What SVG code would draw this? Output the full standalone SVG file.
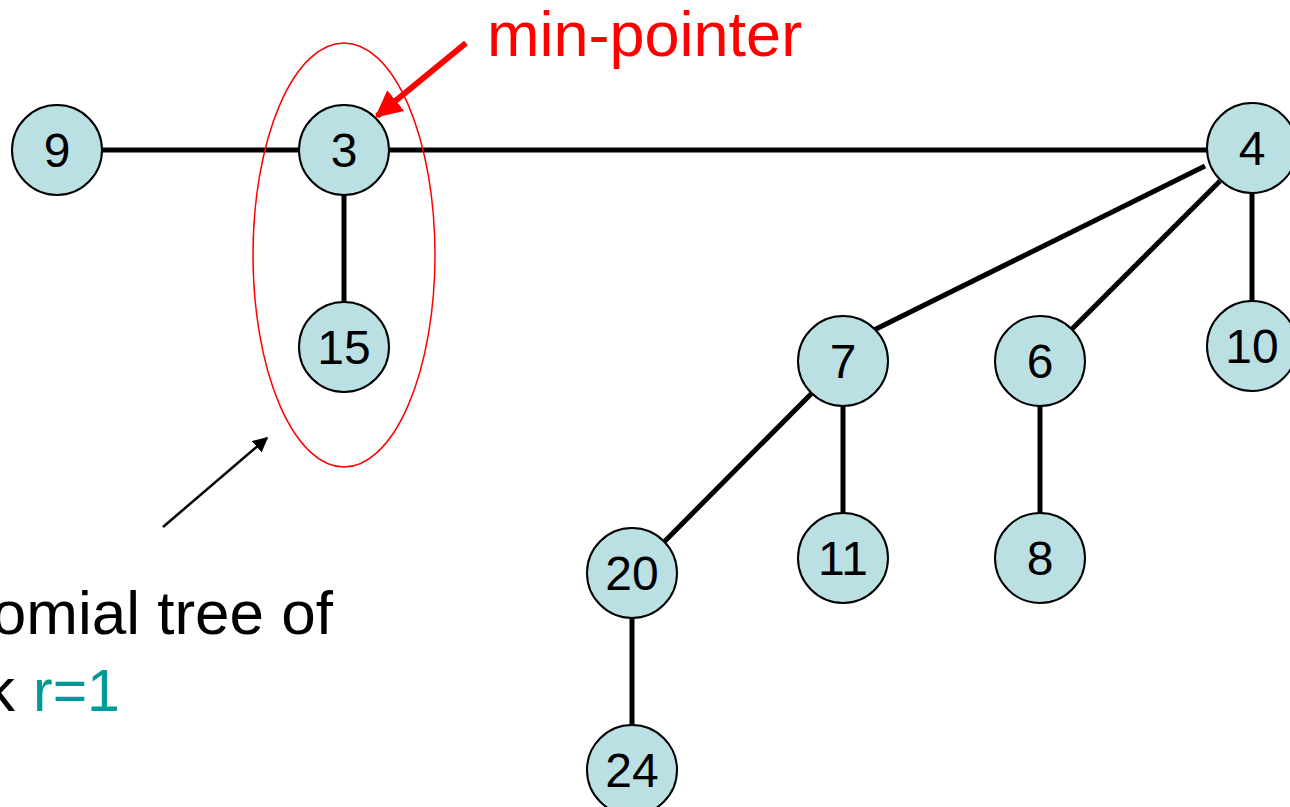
<svg xmlns="http://www.w3.org/2000/svg" width="1290" height="807" viewBox="0 0 1290 807">
  <style>
    .node circle { fill: #BBE0E3; stroke: #000; stroke-width: 2; }
    .node text { font-family: "Liberation Sans", Arial, sans-serif; font-size: 48px; fill: #000; text-anchor: middle; }
    .edge { stroke: #000; stroke-width: 5; fill: none; }
    .label { font-family: "Liberation Sans", Arial, sans-serif; font-size: 62px; }
  </style>
  <defs>
    <marker id="redHead" viewBox="0 0 10 10" refX="9" refY="5" markerWidth="4.5" markerHeight="4.5" orient="auto" markerUnits="strokeWidth">
      <path d="M0,0 L10,5 L0,10 z" fill="#FF0000"/>
    </marker>
    <marker id="blackHead" viewBox="0 0 10 10" refX="9" refY="5" markerWidth="6" markerHeight="6" orient="auto" markerUnits="strokeWidth">
      <path d="M0,0 L10,5 L0,10 z" fill="#000"/>
    </marker>
  </defs>

  <!-- tree edges -->
  <g id="connectors">
    <line class="edge" x1="101" y1="150" x2="300" y2="150"/>
    <line class="edge" x1="389" y1="150" x2="1207" y2="150"/>
    <line class="edge" x1="344" y1="195" x2="344" y2="302"/>
    <line class="edge" x1="1205" y1="166" x2="874" y2="330"/>
    <line class="edge" x1="1220" y1="181" x2="1071" y2="330"/>
    <line class="edge" x1="1252" y1="193" x2="1252" y2="301"/>
    <line class="edge" x1="812" y1="393" x2="664" y2="542"/>
    <line class="edge" x1="843" y1="406" x2="843" y2="513"/>
    <line class="edge" x1="1040" y1="406" x2="1040" y2="513"/>
    <line class="edge" x1="632" y1="618" x2="632" y2="725"/>
  </g>

  <g id="n9" class="node"><circle cx="57" cy="150" r="45"/><text x="57" y="167">9</text></g>
  <g id="n3" class="node"><circle cx="344" cy="150" r="45"/><text x="344" y="167">3</text></g>
  <g id="n4" class="node"><circle cx="1252" cy="148" r="45"/><text x="1252" y="165">4</text></g>
  <g id="n15" class="node"><circle cx="344" cy="347" r="45"/><text x="344" y="364">15</text></g>
  <g id="n10" class="node"><circle cx="1252" cy="346" r="45"/><text x="1252" y="363">10</text></g>
  <g id="n7" class="node"><circle cx="843" cy="361" r="45"/><text x="843" y="378">7</text></g>
  <g id="n6" class="node"><circle cx="1040" cy="361" r="45"/><text x="1040" y="378">6</text></g>
  <g id="n11" class="node"><circle cx="843" cy="558" r="45"/><text x="843" y="575">11</text></g>
  <g id="n8" class="node"><circle cx="1040" cy="558" r="45"/><text x="1040" y="575">8</text></g>
  <g id="n20" class="node"><circle cx="632" cy="573" r="45"/><text x="632" y="590">20</text></g>
  <g id="n24" class="node"><circle cx="632" cy="770" r="45"/><text x="632" y="787">24</text></g>

  <!-- highlight around the rank-1 tree -->
  <ellipse id="highlight" cx="344" cy="255" rx="91" ry="212" fill="none" stroke="#FF0000" stroke-width="1.5"/>

  <!-- min-pointer callout -->
  <g id="min-pointer">
    <line x1="466" y1="43" x2="377" y2="116" stroke="#FF0000" stroke-width="6" marker-end="url(#redHead)"/>
    <text class="label" x="487" y="56" fill="#FF0000" style="font-size:63px">min-pointer</text>
  </g>

  <!-- caption callout -->
  <g id="caption">
    <line x1="163" y1="527" x2="267" y2="438" stroke="#000" stroke-width="2.5" marker-end="url(#blackHead)"/>
    <text class="label" x="333" y="634" text-anchor="end" fill="#000">binomial tree of</text>
    <text class="label" x="15" y="711" text-anchor="end" fill="#000">rank</text>
    <text class="label" x="33" y="711" fill="#009999" style="font-size:59px">r=1</text>
  </g>
</svg>
